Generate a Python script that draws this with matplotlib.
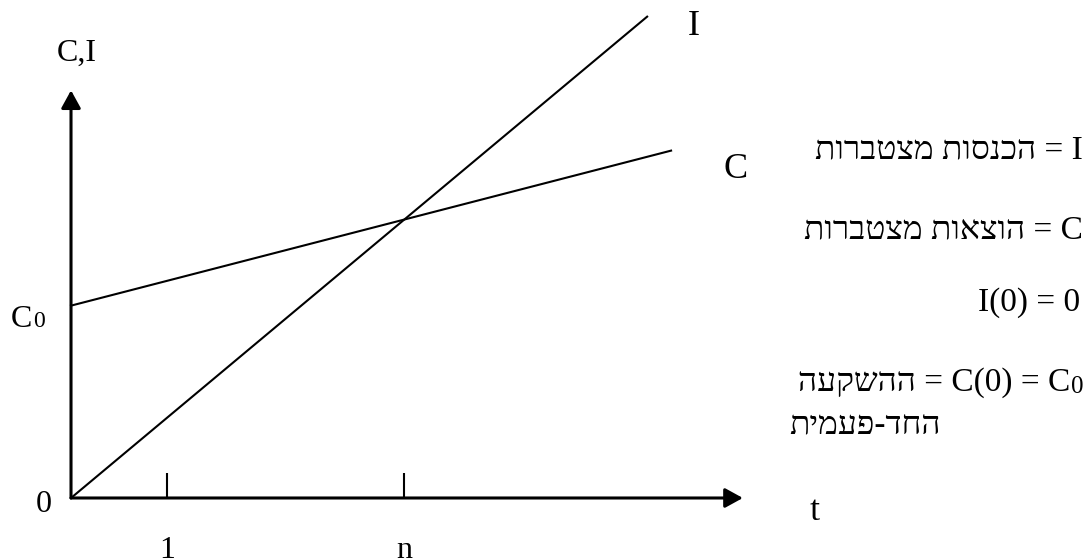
import matplotlib
matplotlib.use('Agg')
import matplotlib.pyplot as plt

# Break-even sketch: cumulative income I(t) vs cumulative costs C(t)
t_income = [0.0, 6.02]
income = [0.0, 5.03]
t_cost = [0.0, 6.27]
cost = [2.01, 3.63]
c0 = 2.01
tick_t = [1.0, 3.48]
tick_labels = ['1', 'n']
x_axis_end = 7.02
y_axis_end = 4.26

SERIF = ['Liberation Serif', 'DejaVu Serif']


def rtl(s):
    """Hebrew in visual (left-to-right) order, since matplotlib has no bidi."""
    return s[::-1]


fig = plt.figure(figsize=(10.85, 5.6), dpi=100)
ax = fig.add_axes([0, 0, 1, 1])
ax.set_xlim(-0.742, 10.595)
ax.set_ylim(-0.648, 5.204)
ax.axis('off')

# axes with arrow heads
arrow = dict(arrowstyle='-|>,head_length=0.4,head_width=0.22', mutation_scale=27,
             lw=2.2, color='black', shrinkA=0, shrinkB=0)
ax.annotate('', xy=(x_axis_end, 0), xytext=(0, 0), arrowprops=arrow)
ax.annotate('', xy=(0, y_axis_end), xytext=(0, 0), arrowprops=arrow)

# ticks on the time axis
for tt in tick_t:
    ax.plot([tt, tt], [0, 0.26], color='black', lw=1.5, solid_capstyle='butt')
for tt, lab in zip(tick_t, tick_labels):
    ax.text(tt, -0.627, lab, ha='center', va='baseline', fontsize=23, family=SERIF)

# the two lines
ax.plot(t_income, income, color='black', lw=1.5)
ax.plot(t_cost, cost, color='black', lw=1.5)

# labels around the chart
ax.text(0.06, 4.65, 'C,I', ha='center', va='center', fontsize=23, family=SERIF)
ax.text(6.51, 4.93, 'I', ha='center', va='center', fontsize=26, family=SERIF)
ax.text(6.94, 3.43, 'C', ha='center', va='center', fontsize=26, family=SERIF)
ax.text(7.77, -0.146, 't', ha='center', va='center', fontsize=26, family=SERIF)
ax.text(-0.282, -0.073, '0', ha='center', va='center', fontsize=23, family=SERIF)
ax.text(-0.41, c0 - 0.22, 'C', ha='right', va='baseline', fontsize=23, family=SERIF)
ax.text(-0.40, c0 - 0.22, '0', ha='left', va='baseline', fontsize=17, family=SERIF)

# notes on the right
right = 10.575
fs = 24
ax.text(right, 3.636, rtl('הכנסות מצטברות') + ' = I', ha='right', va='center',
        fontsize=fs, family=SERIF)
ax.text(right, 2.80, rtl('הוצאות מצטברות') + ' = C', ha='right', va='center',
        fontsize=fs, family=SERIF)
ax.text(right - 0.03, 2.04, 'I(0) = 0', ha='right', va='center',
        fontsize=fs, family=SERIF)
ax.text(right - 0.135, 1.21, rtl('ההשקעה') + ' = C(0) = C', ha='right', va='center',
        fontsize=fs, family=SERIF)
ax.text(right - 0.13, 1.21 - 0.115, '0', ha='left', va='baseline',
        fontsize=18, family=SERIF)
ax.text(7.51, 0.76, rtl('החד-פעמית'), ha='left', va='center',
        fontsize=fs, family=SERIF)

fig.savefig('out.png', dpi=100)
